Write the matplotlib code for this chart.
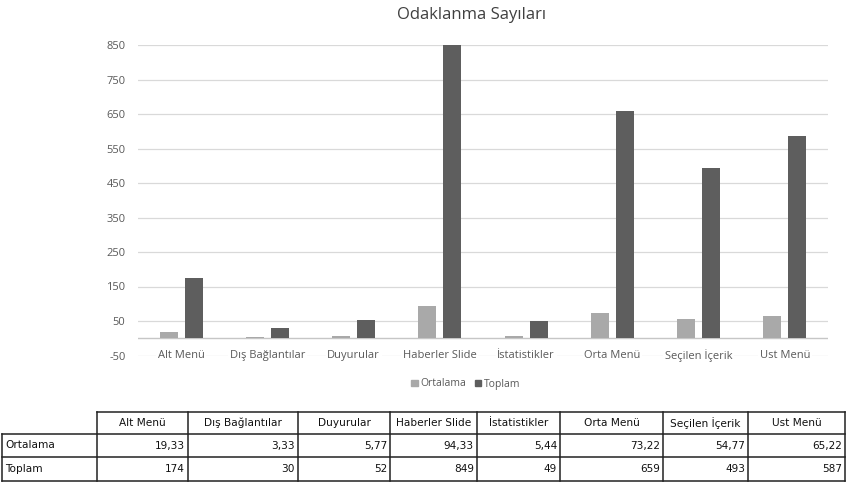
import matplotlib
matplotlib.use("Agg")
import matplotlib.pyplot as plt
import numpy as np
from matplotlib.patches import Patch

categories = ["Alt Menü", "Dış Bağlantılar", "Duyurular", "Haberler Slide",
              "İstatistikler", "Orta Menü", "Seçilen İçerik", "Ust Menü"]
ortalama = [19.33, 3.33, 5.77, 94.33, 5.44, 73.22, 54.77, 65.22]
toplam = [174, 30, 52, 849, 49, 659, 493, 587]
series_names = ["Ortalama", "Toplam"]
title = "Odaklanma Sayıları"
yticks = [-50, 50, 150, 250, 350, 450, 550, 650, 750, 850]

W, H = 847, 484
fig = plt.figure(figsize=(W / 100, H / 100), dpi=100)
fig.patch.set_facecolor("white")

FONT = ["Open Sans", "DejaVu Sans"]
TFONT = ["DejaVu Sans"]
txt_col = "#595959"
c_ort = "#a9a9a9"
c_top = "#5e5e5e"

# plot area in pixels
L, R, T, B = 138, 828, 45, 355.5
ax = fig.add_axes([L / W, 1 - B / H, (R - L) / W, (B - T) / H])
x = np.arange(len(categories))
bw = 0.21
off = 0.145
ax.bar(x - off, ortalama, bw, color=c_ort, zorder=3)
ax.bar(x + off, toplam, bw, color=c_top, zorder=3)
ax.set_xlim(-0.5, len(categories) - 0.5)
ax.set_ylim(yticks[0], yticks[-1])
for yv in yticks:
    ax.axhline(yv, color="#d9d9d9", lw=0.9, zorder=1)
ax.axhline(0, color="#c6c6c6", lw=1.0, zorder=2)
ax.set_yticks(yticks)
ax.set_yticklabels([str(v) for v in yticks], fontsize=8, color=txt_col, family=FONT)
ax.tick_params(axis="y", length=0, pad=9)
ax.set_xticks([])
for s in ax.spines.values():
    s.set_visible(False)
for i, c in enumerate(categories):
    ax.text(i, yticks[0], c, ha="center", va="center", fontsize=8, color=txt_col,
            family=FONT, zorder=4,
            bbox=dict(boxstyle="square,pad=0.15", fc="white", ec="none"))

fig.text(472 / W, 1 - 15 / H, title, ha="center", va="center", fontsize=12,
         color="#404040", family=FONT)

handles = [Patch(color=c_ort, label=series_names[0]), Patch(color=c_top, label=series_names[1])]
leg = fig.legend(handles=handles, loc="center", bbox_to_anchor=(466 / W, 1 - 384 / H),
                 ncol=2, frameon=False, handlelength=0.6, handleheight=0.6,
                 handletextpad=0.3, columnspacing=0.8, prop={"family": FONT, "size": 7.5})
for t in leg.get_texts():
    t.set_color(txt_col)

# data table
tax = fig.add_axes([0, 0, 1, 1])
tax.set_xlim(0, W)
tax.set_ylim(H, 0)
tax.axis("off")
col_edges = [97, 188, 298, 390, 477, 560, 663, 748, 845]
row_edges = [412, 434, 457, 481]
lc = "#222222"
lw = 1.1
# horizontal lines
tax.plot([col_edges[0], col_edges[-1]], [row_edges[0]] * 2, color=lc, lw=lw)
for yv in row_edges[1:]:
    tax.plot([2, col_edges[-1]], [yv] * 2, color=lc, lw=lw)
# vertical lines
tax.plot([2, 2], [row_edges[1], row_edges[-1]], color=lc, lw=lw)
for xv in col_edges:
    tax.plot([xv, xv], [row_edges[0], row_edges[-1]], color=lc, lw=lw)

def fmt(v):
    if isinstance(v, float):
        return f"{v:.2f}".replace(".", ",")
    return str(v)

for j, c in enumerate(categories):
    xc = (col_edges[j] + col_edges[j + 1]) / 2
    tax.text(xc, (row_edges[0] + row_edges[1]) / 2, c, ha="center", va="center",
             fontsize=7.6, family=TFONT, color="#111111")
for r, (name, vals) in enumerate(zip(series_names, [ortalama, toplam])):
    yc = (row_edges[r + 1] + row_edges[r + 2]) / 2
    tax.text(5, yc, name, ha="left", va="center", fontsize=7.6, family=TFONT, color="#111111")
    for j, v in enumerate(vals):
        tax.text(col_edges[j + 1] - 3, yc, fmt(v), ha="right", va="center",
                 fontsize=7.6, family=TFONT, color="#111111")

fig.savefig("out.png", dpi=100)
